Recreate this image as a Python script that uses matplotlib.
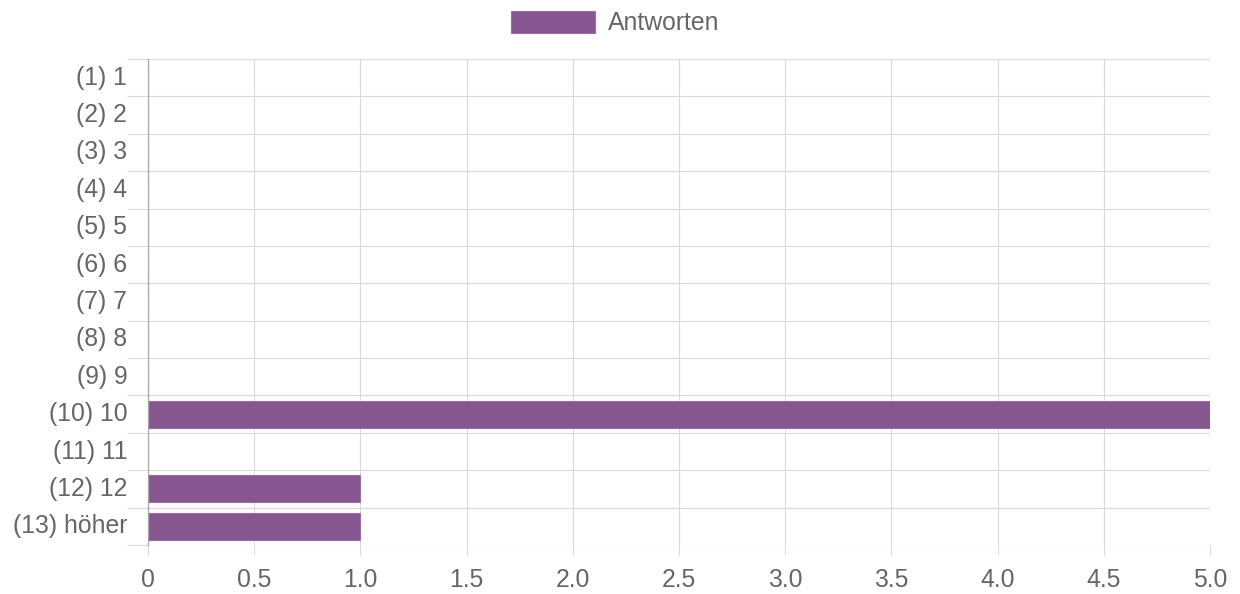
import matplotlib
matplotlib.use('Agg')
import matplotlib.pyplot as plt

categories = ['(1) 1', '(2) 2', '(3) 3', '(4) 4', '(5) 5', '(6) 6', '(7) 7',
              '(8) 8', '(9) 9', '(10) 10', '(11) 11', '(12) 12', '(13) höher']
values = [0, 0, 0, 0, 0, 0, 0, 0, 0, 5, 0, 1, 1]
x_ticks = [0, 0.5, 1.0, 1.5, 2.0, 2.5, 3.0, 3.5, 4.0, 4.5, 5.0]
x_tick_labels = ['0', '0.5', '1.0', '1.5', '2.0', '2.5', '3.0', '3.5', '4.0', '4.5', '5.0']
series_name = 'Antworten'

plt.rcParams['font.family'] = ['Liberation Sans', 'DejaVu Sans']
FS = 17.8
TXT = '#666666'
GRID = '#dadada'
BAR = '#87558f'

fig = plt.figure(figsize=(12.4, 5.94), dpi=100)
ax = fig.add_axes([148 / 1240, 49 / 594, 1062 / 1240, 486 / 594])

n = len(categories)
ypos = list(range(n))
ax.barh(ypos, values, height=0.72, color=BAR, edgecolor='#9b6fa5',
        linewidth=0.8, label=series_name, zorder=3)

ax.set_xlim(0, 5)
ax.set_ylim(n - 0.5, -0.5)
ax.set_axisbelow(True)

ax.set_yticks(ypos)
ax.set_yticklabels(categories)
ax.set_yticks([i - 0.5 for i in range(n + 1)], minor=True)
ax.tick_params(axis='y', which='major', length=0, pad=15, labelsize=FS, labelcolor=TXT)
ax.tick_params(axis='y', which='minor', length=15, width=0.8, color=GRID, direction='out')
ax.grid(axis='y', which='minor', color=GRID, lw=0.8)
for lbl in ax.get_yticklabels():
    lbl.set_va('center')
    lbl.set_y(lbl.get_position()[1])

ax.set_xticks(x_ticks)
ax.set_xticklabels(x_tick_labels)
ax.tick_params(axis='x', which='major', length=7.5, width=0.8, color=GRID, pad=9,
               labelsize=FS, labelcolor=TXT)
ax.grid(axis='x', which='major', color=GRID, lw=0.8)

for s in ['top', 'right', 'bottom']:
    ax.spines[s].set_visible(False)
ax.spines['left'].set_color('#a8a8a8')
ax.spines['left'].set_linewidth(0.9)
ax.spines['left'].set_zorder(4)

fig.legend(loc='center', bbox_to_anchor=(615 / 1240, 1 - 23 / 594), frameon=False,
           fontsize=FS, labelcolor=TXT, handlelength=3.4, handleheight=1.0,
           handletextpad=0.5, borderpad=0, borderaxespad=0)

fig.savefig('out.png', dpi=100, facecolor='white')
